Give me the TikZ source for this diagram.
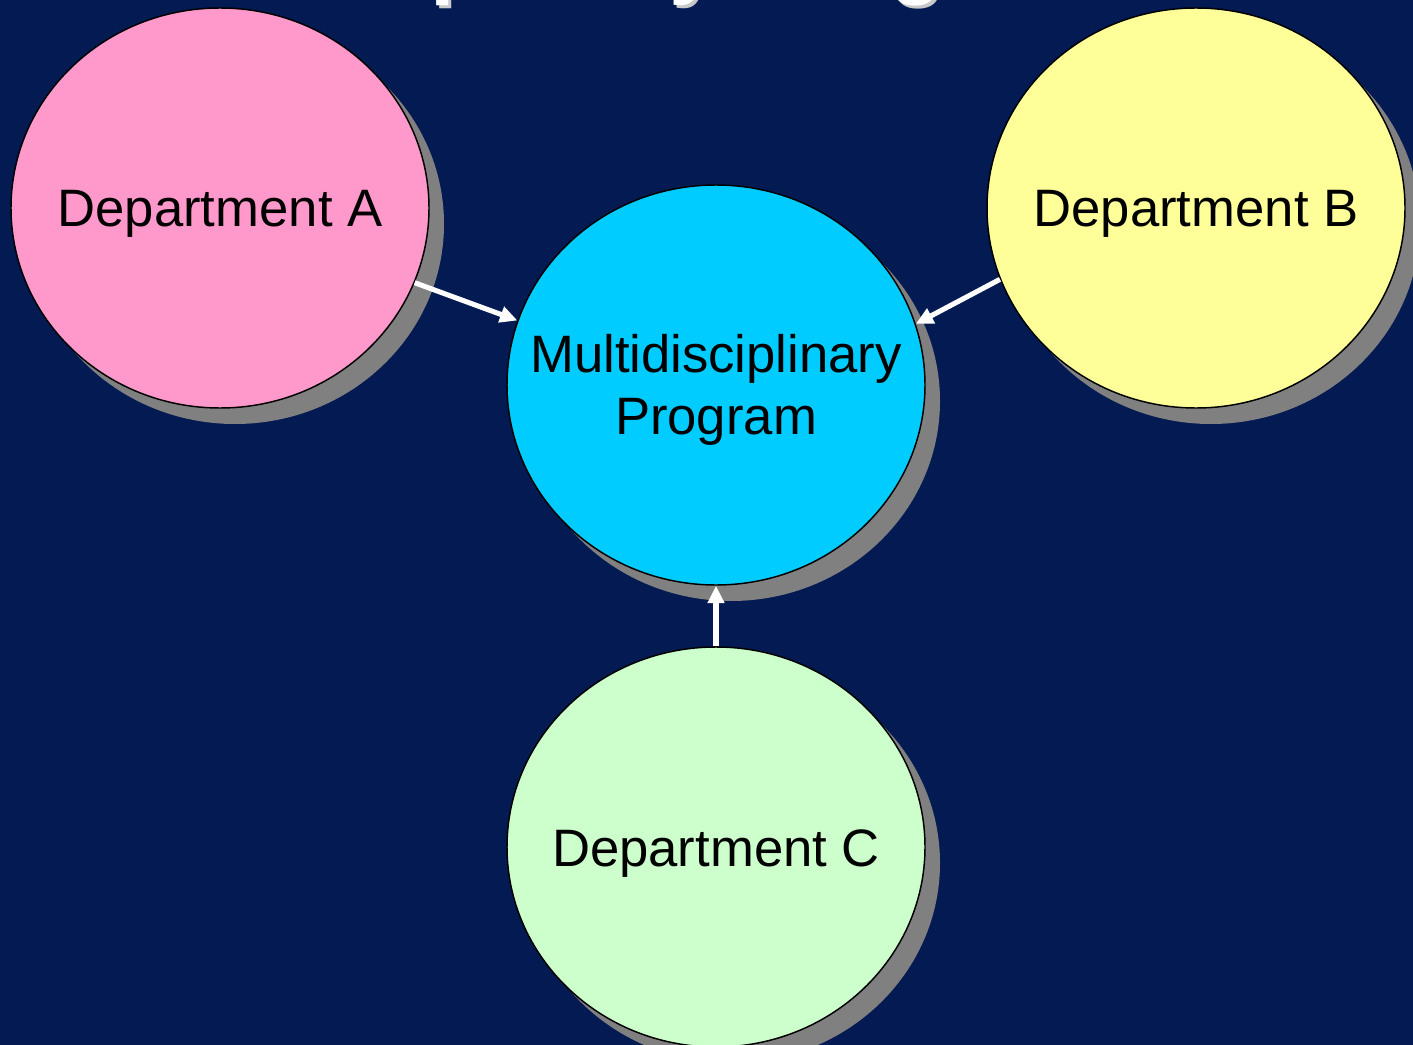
\documentclass[tikz,border=0pt]{standalone}
\usepackage{fontspec}
\setmainfont{Liberation Sans}
\usetikzlibrary{shapes.geometric,arrows.meta,shadows}
\definecolor{bg}{HTML}{041A52}
\definecolor{pinkfill}{HTML}{FF99CC}
\definecolor{yellowfill}{HTML}{FFFF99}
\definecolor{cyanfill}{HTML}{00CCFF}
\definecolor{greenfill}{HTML}{CCFFCC}
\definecolor{shadowgray}{HTML}{808080}
\definecolor{titleshadow}{HTML}{C8C8C8}
\begin{document}
\begin{tikzpicture}[x=0.75pt,y=-0.75pt,
  dept/.style={ellipse, draw=black, line width=1.1pt, inner sep=0pt,
    minimum width=313.5pt, minimum height=300pt,
    drop shadow={shadow xshift=11.25pt, shadow yshift=-12pt, fill=shadowgray, opacity=1}},
  lbl/.style={font=\fontsize{39.5}{47}\selectfont, text=black, align=center, inner sep=0pt},
  flow/.style={draw=white, line width=3.8pt, -{Triangle[length=13pt, width=12pt]}},
  titletext/.style={anchor=base west, font=\bfseries\fontsize{66}{70}\selectfont, inner sep=0pt}]
\fill[bg] (0,0) rectangle (1413,1045);
\useasboundingbox (0,0) rectangle (1413,1045);
% title (cut off at top)
\node[titletext, text=titleshadow] (tshadow) at (27,-9) {Multidisciplinary Program};
\node[titletext, text=white] (title) at (24,-12) {Multidisciplinary Program};
% circles
\node[dept, fill=pinkfill] (A) at (220,208) {};
\node[dept, fill=yellowfill] (B) at (1196,208) {};
\node[dept, fill=cyanfill] (M) at (716,385) {};
\node[dept, fill=greenfill] (C) at (716,847) {};
% labels
\node[lbl] (tA) at (220,214) {Department A};
\node[lbl] (tB) at (1196,214) {Department B};
\node[lbl] (tM) at (716,390) {Multidisciplinary\\Program};
\node[lbl] (tC) at (716,854) {Department C};
% arrows
\draw[flow] (A.339.5) -- (M.162.6);
\draw[flow] (B.200.5) -- (M.17.3);
\draw[flow] (C.north) -- (M.south);
\end{tikzpicture}
\end{document}
